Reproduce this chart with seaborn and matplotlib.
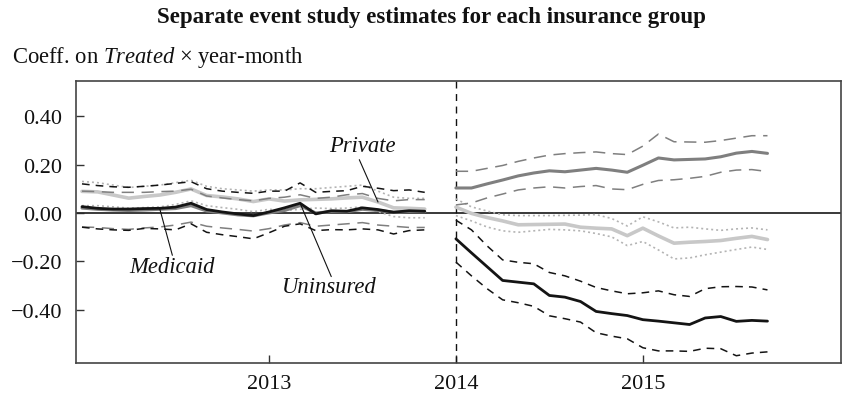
import numpy as np
import pandas as pd
import matplotlib
matplotlib.use("Agg")
import matplotlib.pyplot as plt
import seaborn as sns

# ---------------- data (month index: Jan 2012 = 0, Jan 2014 = 24) ----------------
months_pre = list(range(0, 23))     # Jan 2012 .. Nov 2013
months_post = list(range(24, 45))   # Jan 2014 .. Sep 2015
tick_pos = [12, 24, 36]
tick_labels = ["2013", "2014", "2015"]
y_ticks = [-0.40, -0.20, 0.00, 0.20, 0.40]

unins_est_pre = [0.026, 0.019, 0.016, 0.016, 0.018, 0.019, 0.024, 0.040, 0.014, 0.004, -0.004, -0.011,
                 0.004, 0.021, 0.040, -0.004, 0.009, 0.007, 0.021, 0.014, 0.003, 0.009, 0.007]
unins_est_post = [-0.107, -0.165, -0.222, -0.279, -0.286, -0.293, -0.341, -0.348, -0.366, -0.407, -0.416,
                  -0.424, -0.441, -0.447, -0.454, -0.461, -0.434, -0.428, -0.448, -0.444, -0.447]
unins_hi_pre = [0.120, 0.113, 0.108, 0.106, 0.110, 0.115, 0.122, 0.129, 0.100, 0.090, 0.085, 0.081,
                0.090, 0.090, 0.124, 0.085, 0.089, 0.092, 0.110, 0.102, 0.092, 0.095, 0.085]
unins_hi_post = [-0.030, -0.070, -0.136, -0.194, -0.204, -0.210, -0.246, -0.260, -0.282, -0.308, -0.322,
                 -0.334, -0.330, -0.322, -0.338, -0.345, -0.313, -0.305, -0.304, -0.306, -0.318]
unins_lo_pre = [-0.059, -0.066, -0.070, -0.072, -0.064, -0.066, -0.070, -0.045, -0.080, -0.090, -0.098, -0.107,
                -0.082, -0.055, -0.045, -0.073, -0.069, -0.070, -0.066, -0.070, -0.087, -0.073, -0.070]
unins_lo_post = [-0.203, -0.260, -0.313, -0.359, -0.371, -0.386, -0.425, -0.437, -0.451, -0.495, -0.509,
                 -0.520, -0.557, -0.570, -0.570, -0.572, -0.559, -0.561, -0.590, -0.579, -0.574]

medic_est_pre = [0.020, 0.015, 0.012, 0.010, 0.012, 0.015, 0.018, 0.030, 0.008, 0.000, -0.008, -0.012,
                 0.000, 0.010, 0.030, 0.000, 0.005, 0.005, 0.015, 0.010, 0.003, 0.005, 0.005]
medic_est_post = [0.103, 0.103, 0.120, 0.136, 0.153, 0.165, 0.174, 0.170, 0.177, 0.184, 0.177,
                  0.168, 0.197, 0.227, 0.219, 0.221, 0.223, 0.232, 0.247, 0.254, 0.246]
medic_hi_pre = [0.090, 0.088, 0.085, 0.085, 0.085, 0.088, 0.090, 0.098, 0.070, 0.062, 0.055, 0.050,
                0.060, 0.065, 0.075, 0.060, 0.065, 0.075, 0.080, 0.060, 0.050, 0.055, 0.055]
medic_hi_post = [0.172, 0.172, 0.184, 0.196, 0.213, 0.227, 0.239, 0.245, 0.249, 0.252, 0.245,
                 0.241, 0.276, 0.326, 0.294, 0.293, 0.292, 0.299, 0.309, 0.319, 0.319]
medic_lo_pre = [-0.058, -0.060, -0.065, -0.068, -0.062, -0.058, -0.050, -0.038, -0.055, -0.062, -0.068, -0.075,
                -0.065, -0.050, -0.040, -0.055, -0.050, -0.045, -0.040, -0.050, -0.055, -0.060, -0.060]
medic_lo_post = [0.033, 0.041, 0.062, 0.078, 0.095, 0.103, 0.108, 0.103, 0.109, 0.113, 0.099,
                 0.096, 0.118, 0.134, 0.137, 0.143, 0.151, 0.168, 0.177, 0.179, 0.171]

priv_est_pre = [0.089, 0.087, 0.074, 0.061, 0.068, 0.074, 0.085, 0.099, 0.072, 0.066, 0.058, 0.047,
                0.058, 0.049, 0.054, 0.056, 0.058, 0.062, 0.065, 0.045, 0.021, 0.019, 0.016]
priv_est_post = [0.024, -0.002, -0.019, -0.033, -0.049, -0.048, -0.047, -0.046, -0.059, -0.063, -0.066,
                 -0.094, -0.063, -0.095, -0.125, -0.121, -0.118, -0.114, -0.105, -0.097, -0.110]
priv_hi_pre = [0.130, 0.125, 0.115, 0.105, 0.110, 0.115, 0.125, 0.135, 0.110, 0.100, 0.095, 0.090,
               0.095, 0.095, 0.100, 0.100, 0.105, 0.110, 0.115, 0.090, 0.065, 0.060, 0.060]
priv_hi_post = [0.058, 0.025, 0.008, -0.008, -0.011, -0.011, -0.011, -0.010, -0.009, -0.007, -0.023,
                -0.054, -0.016, -0.037, -0.062, -0.059, -0.066, -0.072, -0.066, -0.062, -0.070]
priv_lo_pre = [0.030, 0.030, 0.025, 0.020, 0.022, 0.025, 0.035, 0.050, 0.030, 0.022, 0.015, 0.005,
               0.015, 0.010, 0.015, 0.020, 0.018, 0.020, 0.025, 0.005, -0.015, -0.020, -0.020]
priv_lo_post = [-0.011, -0.033, -0.058, -0.074, -0.080, -0.074, -0.068, -0.070, -0.074, -0.085, -0.099,
                -0.135, -0.118, -0.153, -0.190, -0.186, -0.173, -0.162, -0.151, -0.141, -0.151]

series = {
    ("Private", "est"): (priv_est_pre, priv_est_post),
    ("Private", "hi"): (priv_hi_pre, priv_hi_post),
    ("Private", "lo"): (priv_lo_pre, priv_lo_post),
    ("Medicaid", "est"): (medic_est_pre, medic_est_post),
    ("Medicaid", "hi"): (medic_hi_pre, medic_hi_post),
    ("Medicaid", "lo"): (medic_lo_pre, medic_lo_post),
    ("Uninsured", "est"): (unins_est_pre, unins_est_post),
    ("Uninsured", "hi"): (unins_hi_pre, unins_hi_post),
    ("Uninsured", "lo"): (unins_lo_pre, unins_lo_post),
}

rows = []
for (grp, kind), (pre, post) in series.items():
    for t, v in zip(months_pre, pre):
        rows.append((grp, kind, "pre", t, v))
    for t, v in zip(months_post, post):
        rows.append((grp, kind, "post", t, v))
df = pd.DataFrame(rows, columns=["group", "kind", "period", "month", "coef"])

# ---------------- styling ----------------
sns.set_style("white")
plt.rcParams["font.family"] = ["Liberation Serif", "DejaVu Serif"]
plt.rcParams["mathtext.fontset"] = "custom"
plt.rcParams["mathtext.rm"] = "Liberation Serif"
plt.rcParams["mathtext.it"] = "Liberation Serif:italic"

styles = {
    ("Private", "est"): dict(color="#c8c8c8", lw=2.6, ls="-"),
    ("Private", "ci"): dict(color="#b4b4b4", lw=1.2, ls=(0, (1.2, 1.8))),
    ("Medicaid", "est"): dict(color="#7f7f7f", lw=2.2, ls="-"),
    ("Medicaid", "ci"): dict(color="#7f7f7f", lw=1.1, ls=(0, (8, 5))),
    ("Uninsured", "est"): dict(color="#141414", lw=2.0, ls="-"),
    ("Uninsured", "ci"): dict(color="#141414", lw=1.1, ls=(0, (5, 4))),
}

fig = plt.figure(figsize=(8.62, 4.06), dpi=100)
ax = fig.add_axes([76 / 862, 1 - 364 / 406, (840.7 - 76) / 862, (364 - 82) / 406])

for grp in ["Private", "Medicaid", "Uninsured"]:
    for kind in ["hi", "lo", "est"]:
        st = styles[(grp, "est" if kind == "est" else "ci")]
        sub = df[(df.group == grp) & (df.kind == kind)]
        sns.lineplot(data=sub, x="month", y="coef", units="period", estimator=None,
                     color=st["color"], linewidth=st["lw"], linestyle=st["ls"], ax=ax,
                     legend=False)

ax.axhline(0, color="#2a2a2a", lw=1.3, zorder=1)
ax.axvline(24, color="#111111", lw=1.0, ls=(0, (5, 4)), zorder=1)

ax.set_xlim(-0.385, 48.7)
ax.set_ylim(-0.62, 0.545)
ax.set_xticks(tick_pos)
ax.set_xticklabels(tick_labels)
ax.set_yticks(y_ticks)
ax.set_yticklabels([f"{v:.2f}".replace("-", "\u2212") for v in y_ticks])
ax.set_xlabel("")
ax.set_ylabel("")
ax.tick_params(axis="both", direction="in", length=6, width=1, color="#333333",
               labelsize=16, labelcolor="#111111", bottom=True, left=True, top=False, right=False)
ax.tick_params(axis="y", pad=10)
ax.tick_params(axis="x", pad=8)
for s in ax.spines.values():
    s.set_visible(True)
    s.set_color("#444444")
    s.set_linewidth(1.2)

# series labels with pointer lines
def val(pre, t):
    return pre[months_pre.index(t)]

lab_kw = dict(fontsize=16.3, style="italic", color="#111111", ha="center", va="center")
ax.annotate("", xy=(19, val(priv_est_pre, 19)), xytext=(17.8, 0.22),
            arrowprops=dict(arrowstyle="-", lw=0.8, color="#111111", shrinkA=0, shrinkB=0))
ax.text(18.0, 0.28, "Private", **lab_kw)
ax.annotate("", xy=(5, val(medic_est_pre, 5)), xytext=(5.8, -0.175),
            arrowprops=dict(arrowstyle="-", lw=0.8, color="#111111", shrinkA=0, shrinkB=0))
ax.text(5.8, -0.222, "Medicaid", **lab_kw)
ax.annotate("", xy=(14, val(unins_est_pre, 14)), xytext=(16.0, -0.263),
            arrowprops=dict(arrowstyle="-", lw=0.8, color="#111111", shrinkA=0, shrinkB=0))
ax.text(15.9, -0.305, "Uninsured", **lab_kw)

fig.text(431 / 862, 1 - 18 / 406, "Separate event study estimates for each insurance group",
         ha="center", va="center", fontsize=16.5, fontweight="bold", color="#111111")
fig.text(12 / 862, 1 - 57 / 406, r"Coeff. on $\mathit{Treated}$ × year-month",
         ha="left", va="center", fontsize=16.3, color="#111111")

fig.savefig("out.png", dpi=100)
